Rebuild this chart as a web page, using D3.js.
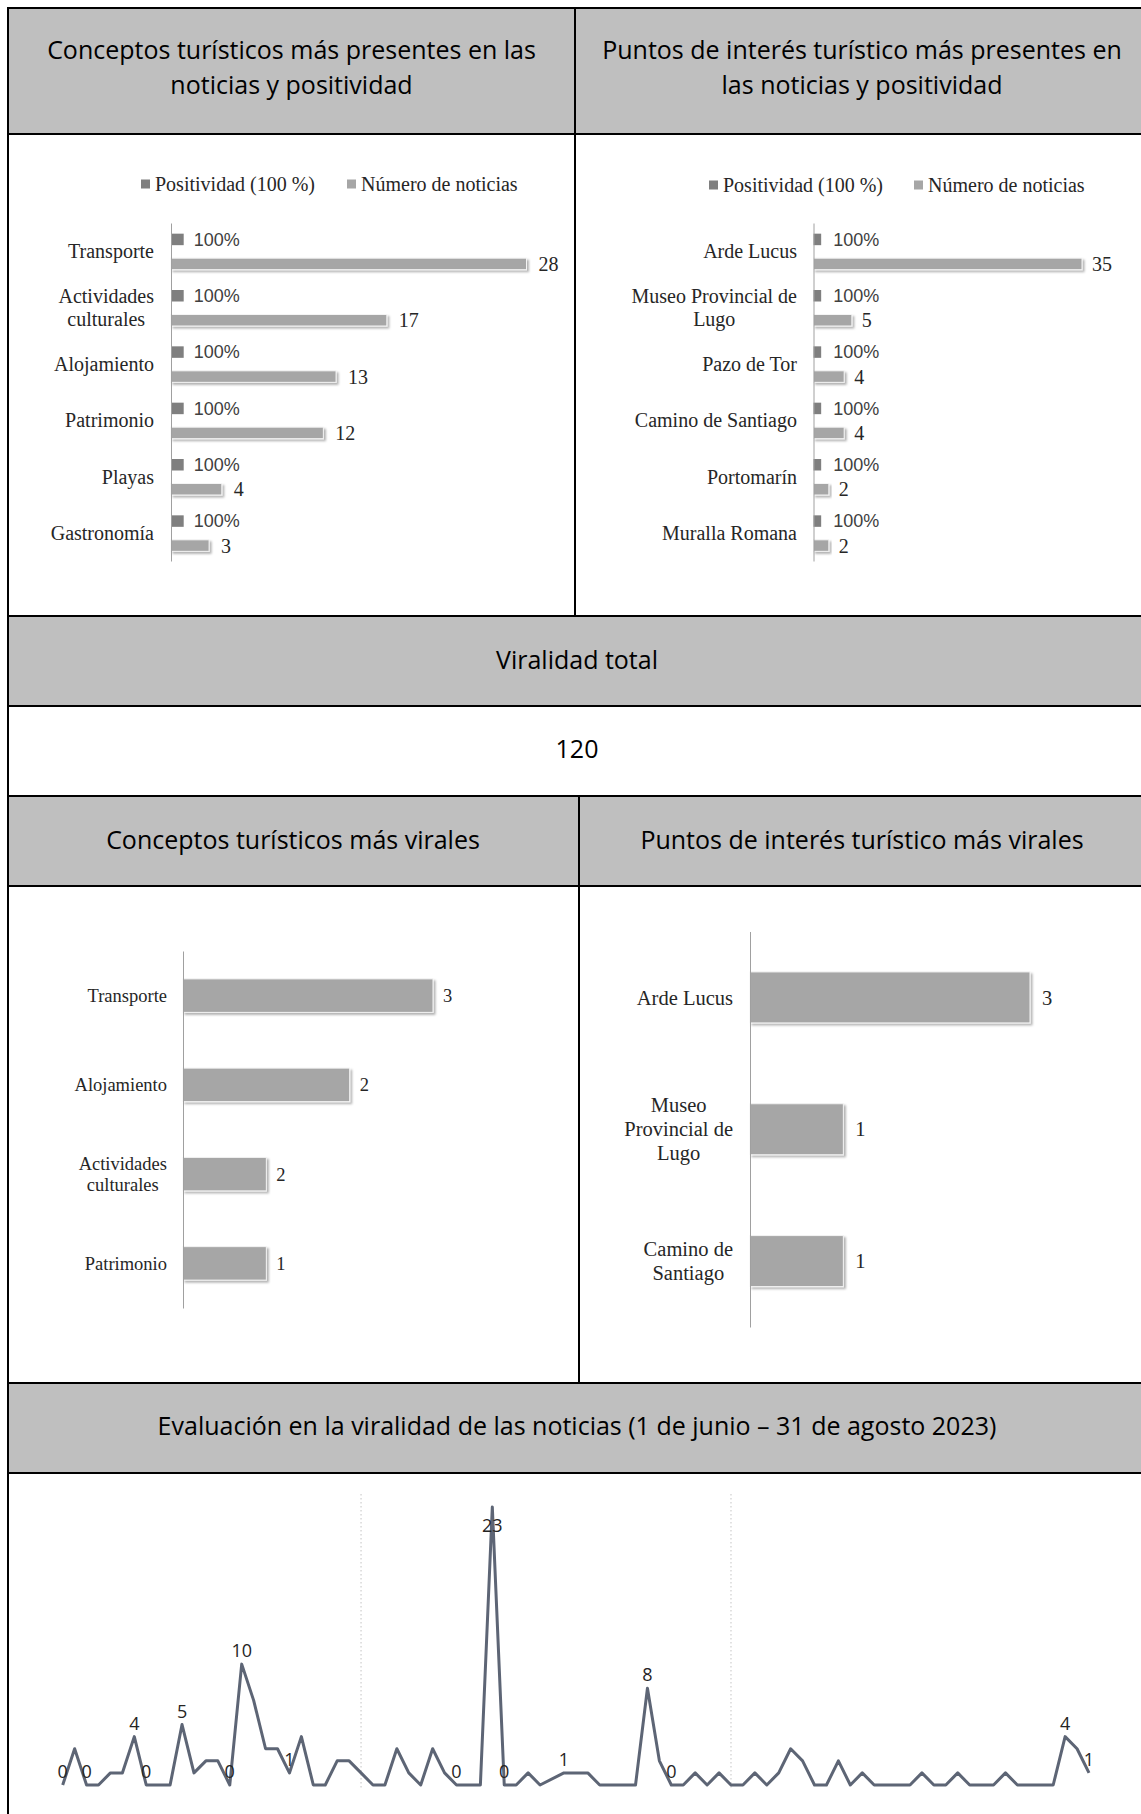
<!DOCTYPE html>
<html><head><meta charset="utf-8">
<script src="https://cdn.jsdelivr.net/npm/d3@7"></script>
<style>body{margin:0;background:#fff;} svg{display:block;}</style>
</head><body>
<svg id="c" width="1141" height="1814"></svg>
<script>
// ---------- DATA ----------
const headerTopLeft = ["Conceptos turísticos más presentes en las", "noticias y positividad"];
const headerTopRight = ["Puntos de interés turístico más presentes en", "las noticias y positividad"];
const headerTotal = "Viralidad total";
const totalVirality = 120;
const headerViralLeft = "Conceptos turísticos más virales";
const headerViralRight = "Puntos de interés turístico más virales";
const headerTimeline = "Evaluación en la viralidad de las noticias (1 de junio – 31 de agosto 2023)";

const legendLabels = ["Positividad (100 %)", "Número de noticias"];
const positivityLabel = "100%";

const presenceConcepts = ["Transporte", "Actividades culturales", "Alojamiento", "Patrimonio", "Playas", "Gastronomía"];
const presenceConceptCounts = [28, 17, 13, 12, 4, 3];
const presenceConceptPositivity = [1, 1, 1, 1, 1, 1];

const presencePoints = ["Arde Lucus", "Museo Provincial de Lugo", "Pazo de Tor", "Camino de Santiago", "Portomarín", "Muralla Romana"];
const presencePointCounts = [35, 5, 4, 4, 2, 2];
const presencePointPositivity = [1, 1, 1, 1, 1, 1];

const viralConcepts = ["Transporte", "Alojamiento", "Actividades culturales", "Patrimonio"];
const viralConceptBars = [3, 2, 1, 1];
const viralConceptLabels = ["3", "2", "2", "1"];

const viralPoints = ["Arde Lucus", "Museo Provincial de Lugo", "Camino de Santiago"];
const viralPointValues = [3, 1, 1];

const lineStart = "2023-06-06";
const lineEnd = "2023-08-31";
// one value per day, null = no data that day
const dailyVirality = [
  0, 3, 0, 0, 1, 1, 4, 0, 0, 0,
  5, 1, 2, 2, 0, 10, 7, 3, 3, 1,
  4, 0, 0, 2, 2, 1, 0, 0, 3, 1,
  0, 3, 1, 0, 0, 0, 23, 0, 0, 1,
  0, null, 1, 1, 1, 0, 0, 0, 0, 8,
  2, 0, 0, 1, 0, 1, 0, 0, 1, 0,
  1, 3, 2, 0, 0, 2, 0, 1, 0, 0,
  0, 0, 1, 0, 0, 1, 0, 0, 0, 1,
  0, 0, 0, 0, 4, 3, 1
];
const labelledDays = [0, 2, 6, 7, 10, 14, 15, 19, 33, 36, 37, 42, 49, 51, 84, 86];
const gridDates = ["2023-07-01", "2023-08-01"];

// ---------- DRAW ----------
const svg = d3.select("#c");
const SERIF = "'Liberation Serif','Times New Roman',serif";
const SANS = "'Open Sans','Noto Sans',sans-serif";
const defs = svg.append("defs");
defs.append("filter").attr("id", "sh").attr("x", "-10%").attr("y", "-30%").attr("width", "130%").attr("height", "180%")
  .append("feDropShadow").attr("dx", 2).attr("dy", 2).attr("stdDeviation", 1.3)
  .attr("flood-color", "#000").attr("flood-opacity", 0.3);

// table
const TL = 8, TR = 1146;
const grayRows = [[8, 134], [616, 706], [796, 886], [1383, 1473]];
grayRows.forEach(r => svg.append("rect").attr("x", TL).attr("y", r[0]).attr("width", TR - TL).attr("height", r[1] - r[0]).attr("fill", "#bfbfbf"));

function headerText(lines, cx, cy, lh) {
  const t = svg.append("text").attr("text-anchor", "middle").style("font-family", SANS).style("font-size", "25px").attr("fill", "#000");
  lines.forEach((l, i) => t.append("tspan").attr("x", cx).attr("y", cy + (i - (lines.length - 1) / 2) * lh).attr("dy", "0.35em").text(l));
}
headerText(headerTopLeft, 291.5, 68, 34.6);
headerText(headerTopRight, 862, 68, 34.6);
headerText([headerTotal], 577, 660, 0);
headerText([String(totalVirality)], 577, 749, 0);
headerText([headerViralLeft], 293, 840, 0);
headerText([headerViralRight], 862, 840, 0);
headerText([headerTimeline], 577, 1426, 0);

// helper: wrapped category label, right-aligned block, centered lines
function catLabel(g, text, xRight, yc, fs, lh, maxW) {
  const meas = g.append("text").style("font-family", SERIF).style("font-size", fs + "px");
  const words = text.split(" ");
  const lines = []; let cur = "";
  words.forEach(w => {
    const test = cur ? cur + " " + w : w;
    meas.text(test);
    if (meas.node().getComputedTextLength() > maxW && cur) { lines.push(cur); cur = w; } else cur = test;
  });
  lines.push(cur);
  let bw = 0;
  lines.forEach(l => { meas.text(l); bw = Math.max(bw, meas.node().getComputedTextLength()); });
  meas.remove();
  const t = g.append("text").attr("text-anchor", "middle").style("font-family", SERIF).style("font-size", fs + "px").attr("fill", "#262626");
  lines.forEach((l, i) => t.append("tspan").attr("x", xRight - bw / 2).attr("y", yc + (i - (lines.length - 1) / 2) * lh).attr("dy", "0.35em").text(l));
}

function hbar(cfg) {
  const g = svg.append("g");
  const y = d3.scaleBand().domain(cfg.cats).range([cfg.yTop, cfg.yBottom]);
  const x = d3.scaleLinear().domain([0, cfg.xMax]).range([cfg.axisX, cfg.xEnd]);
  const c = d => y(d) + y.bandwidth() / 2;
  cfg.series.forEach(s => {
    g.selectAll(null).data(s.values).enter().append("rect")
      .attr("x", x(0)).attr("y", (d, i) => c(cfg.cats[i]) + s.dy)
      .attr("width", d => x(d) - x(0)).attr("height", s.h)
      .attr("fill", s.color)
      .attr("stroke", s.shadow ? "#f4f4f4" : "none").attr("stroke-width", 1)
      .attr("filter", s.shadow ? "url(#sh)" : null);
    g.selectAll(null).data(s.labels).enter().append("text")
      .attr("x", (d, i) => x(s.values[i]) + s.gap)
      .attr("y", (d, i) => c(cfg.cats[i]) + s.dy + s.h / 2)
      .attr("dy", "0.35em").text(d => d)
      .style("font-family", s.font).style("font-size", s.fs + "px").attr("fill", s.fill);
  });
  const ax = g.append("g").attr("transform", `translate(${x(0)},0)`)
    .call(d3.axisLeft(y).tickSize(0).tickSizeOuter(0).tickFormat(""));
  ax.select(".domain").attr("stroke", "#a0a0a0");
  cfg.cats.forEach(d => catLabel(g, d, cfg.labelRight, c(d), cfg.fs, cfg.lh, cfg.maxW));
  if (cfg.legend) {
    const L = cfg.legend;
    L.items.forEach((it, i) => {
      g.append("rect").attr("x", it.mx).attr("y", L.y - 4.5).attr("width", 9).attr("height", 9).attr("fill", it.color);
      g.append("text").attr("x", it.mx + 14).attr("y", L.y).attr("dy", "0.35em").text(legendLabels[i])
        .style("font-family", SERIF).style("font-size", "20px").attr("fill", "#262626");
    });
  }
}

const PCT_FONT = "'Liberation Sans',Arial,sans-serif";
hbar({
  cats: presenceConcepts, yTop: 223, yBottom: 561, axisX: 171, xMax: 28, xEnd: 526.5,
  labelRight: 154, fs: 20, lh: 23, maxW: 150,
  legend: { y: 184, items: [{ mx: 141, color: "#7f7f7f" }, { mx: 347, color: "#a6a6a6" }] },
  series: [
    { values: presenceConceptPositivity, labels: presenceConceptPositivity.map(() => positivityLabel), color: "#7f7f7f", dy: -17.5, h: 11.5, gap: 10, font: PCT_FONT, fs: 18, fill: "#404040", shadow: false },
    { values: presenceConceptCounts, labels: presenceConceptCounts.map(String), color: "#a6a6a6", dy: 7, h: 11.5, gap: 12, font: SERIF, fs: 20, fill: "#262626", shadow: true }
  ]
});
hbar({
  cats: presencePoints, yTop: 223, yBottom: 561, axisX: 813.5, xMax: 35, xEnd: 1082,
  labelRight: 797, fs: 20, lh: 23, maxW: 175,
  legend: { y: 185, items: [{ mx: 709, color: "#7f7f7f" }, { mx: 914, color: "#a6a6a6" }] },
  series: [
    { values: presencePointPositivity, labels: presencePointPositivity.map(() => positivityLabel), color: "#7f7f7f", dy: -17.5, h: 11.5, gap: 12, font: PCT_FONT, fs: 18, fill: "#404040", shadow: false },
    { values: presencePointCounts, labels: presencePointCounts.map(String), color: "#a6a6a6", dy: 7, h: 11.5, gap: 10, font: SERIF, fs: 20, fill: "#262626", shadow: true }
  ]
});
hbar({
  cats: viralConcepts, yTop: 951, yBottom: 1308, axisX: 183, xMax: 3, xEnd: 433,
  labelRight: 167, fs: 18.5, lh: 21, maxW: 110,
  series: [
    { values: viralConceptBars, labels: viralConceptLabels, color: "#a6a6a6", dy: -16.75, h: 33.5, gap: 10, font: SERIF, fs: 18.5, fill: "#262626", shadow: true }
  ]
});
hbar({
  cats: viralPoints, yTop: 931.5, yBottom: 1327, axisX: 750, xMax: 3, xEnd: 1030,
  labelRight: 733, fs: 20.5, lh: 24, maxW: 120,
  series: [
    { values: viralPointValues, labels: viralPointValues.map(String), color: "#a6a6a6", dy: -25.5, h: 51, gap: 12, font: SERIF, fs: 20.5, fill: "#262626", shadow: true }
  ]
});

// line chart
const parse = d3.utcParse("%Y-%m-%d");
const days = d3.utcDay.range(parse(lineStart), d3.utcDay.offset(parse(lineEnd), 1));
const pts = days.map((d, i) => ({ d, v: dailyVirality[i], i }));
const xL = d3.scaleUtc().domain([parse(lineStart), parse(lineEnd)]).range([62.7, 1089]);
const yL = d3.scaleLinear().domain([0, 23]).range([1785, 1507]);
const lg = svg.append("g");
gridDates.forEach(s => lg.append("line").attr("x1", xL(parse(s))).attr("x2", xL(parse(s)))
  .attr("y1", 1494).attr("y2", 1788).attr("stroke", "#c4c4c4").attr("stroke-width", 1).attr("stroke-dasharray", "1.5,2.5"));
lg.append("path").datum(pts.filter(p => p.v !== null))
  .attr("d", d3.line().x(p => xL(p.d)).y(p => yL(p.v)))
  .attr("fill", "none").attr("stroke", "#5d6575").attr("stroke-width", 3).attr("stroke-linejoin", "round");
lg.selectAll(null).data(labelledDays.map(i => pts[i])).enter().append("text")
  .attr("x", p => xL(p.d))
  .attr("y", p => (yL(p.v) - 22 < 1494) ? yL(p.v) + 25 : yL(p.v) - 7)
  .attr("text-anchor", "middle").text(p => p.v)
  .style("font-family", SANS).style("font-size", "18px").attr("fill", "#252423");

// borders
const hLines = [8, 134, 616, 706, 796, 886, 1383, 1473];
hLines.forEach(yv => svg.append("line").attr("x1", TL - 1).attr("x2", TR).attr("y1", yv).attr("y2", yv).attr("stroke", "#000").attr("stroke-width", 2));
svg.append("line").attr("x1", TL).attr("x2", TL).attr("y1", 7).attr("y2", 1814).attr("stroke", "#000").attr("stroke-width", 2);
svg.append("line").attr("x1", 575).attr("x2", 575).attr("y1", 8).attr("y2", 616).attr("stroke", "#000").attr("stroke-width", 2);
svg.append("line").attr("x1", 579).attr("x2", 579).attr("y1", 796).attr("y2", 1383).attr("stroke", "#000").attr("stroke-width", 2);
</script>
</body></html>
